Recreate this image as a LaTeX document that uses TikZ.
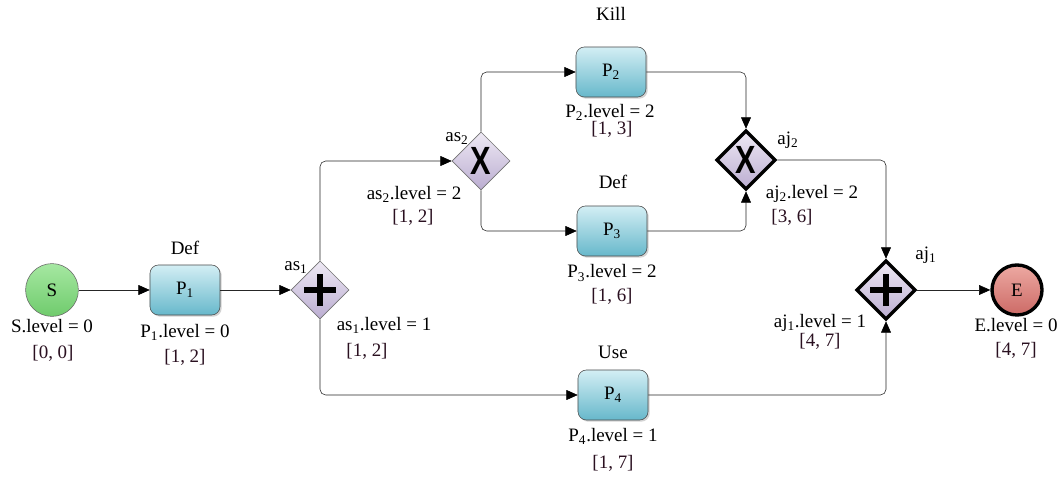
\documentclass[tikz,border=0pt]{standalone}
\usepackage{fontspec}
\setmainfont{Liberation Serif}
\setsansfont{Liberation Sans}
\usetikzlibrary{shapes.geometric,arrows.meta,shadows}
\definecolor{taskhi}{HTML}{D3EEF4}
\definecolor{tasklo}{HTML}{67B8CB}
\definecolor{gatehi}{HTML}{EEE9F4}
\definecolor{gatelo}{HTML}{BBADD1}
\definecolor{starthi}{HTML}{A6E8A2}
\definecolor{startlo}{HTML}{6FCB6C}
\definecolor{endhi}{HTML}{EDA9A2}
\definecolor{endlo}{HTML}{CC6A66}
\definecolor{ivalc}{HTML}{2A1020}
\tikzset{
  task/.style={draw=black!70,rounded corners=6pt,top color=taskhi,bottom color=tasklo,
    minimum width=1.75cm,minimum height=1.25cm,font=\fontsize{13.5}{15}\selectfont,
    drop shadow={shadow xshift=1.2pt,shadow yshift=-1.2pt,opacity=.35}},
  split/.style={diamond,draw=black!55,top color=gatehi,bottom color=gatelo,inner sep=0pt,
    minimum width=1.45cm,minimum height=1.45cm},
  merge/.style={split,draw=black,line width=2.4pt,minimum width=1.48cm,minimum height=1.48cm},
  flow/.style={draw=black!85,rounded corners=4pt,-{Triangle[length=8pt,width=7pt,color=black]}},
  txt/.style={font=\fontsize{13.5}{15}\selectfont,inner sep=0pt},
  ival/.style={txt,text=ivalc},
  xmark/.style={font=\fontsize{28}{28}\sffamily\bfseries,inner sep=0pt,xscale=.78},
  plusbar/.style={line width=3.6pt},
}
\begin{document}
\begin{tikzpicture}[x=0.025cm,y=-0.025cm]
\useasboundingbox (0,0) rectangle (1064,477);
% events
\node[circle,draw=black!60,top color=starthi,bottom color=startlo,minimum size=1.32cm,
  font=\fontsize{13.5}{15}\selectfont] (S) at (52,290) {S};
\node[circle,draw=black,line width=2.4pt,top color=endhi,bottom color=endlo,minimum size=1.25cm,
  font=\fontsize{13.5}{15}\selectfont] (E) at (1017,290) {E};
% tasks
\node[task] (P1) at (185,290) {P\textsubscript{1}};
\node[task] (P2) at (611,72) {P\textsubscript{2}};
\node[task] (P3) at (612,231) {P\textsubscript{3}};
\node[task] (P4) at (613,395) {P\textsubscript{4}};
% gateways
\node[split] (as1) at (320,290) {};
\node[split] (as2) at (481,161) {};
\node[merge] (aj2) at (746,160) {};
\node[merge] (aj1) at (886,290) {};
\draw[plusbar] ([xshift=-0.4cm]as1.center) -- ([xshift=0.4cm]as1.center);
\draw[plusbar] ([yshift=-0.4cm]as1.center) -- ([yshift=0.4cm]as1.center);
\draw[plusbar] ([xshift=-0.4cm]aj1.center) -- ([xshift=0.4cm]aj1.center);
\draw[plusbar] ([yshift=-0.4cm]aj1.center) -- ([yshift=0.4cm]aj1.center);
\node[xmark] (as2x) at (as2.center) {X};
\node[xmark] (aj2x) at (aj2.center) {X};
% flows
\draw[flow] (S) -- (P1);
\draw[flow] (P1) -- (as1.west);
\draw[flow] (as1.north) |- (as2.west);
\draw[flow] (as2.north) |- (P2.west);
\draw[flow] (as2.south) |- (P3.west);
\draw[flow] (P2.east) -| (aj2.north);
\draw[flow] (P3.east) -| (aj2.south);
\draw[flow] (as1.south) |- (P4.west);
\draw[flow] (aj2.east) -| (aj1.north);
\draw[flow] (P4.east) -| (aj1.south);
\draw[flow] (aj1.east) -- (E.west);
% names above the tasks
\node[txt] (defA) at (185,248) {Def};
\node[txt] (kill) at (611,14) {Kill};
\node[txt] (defB) at (613,182) {Def};
\node[txt] (use) at (613,352) {Use};
\node[txt] (as1n) at (296,268) {as\textsubscript{1}};
\node[txt] (as2n) at (457,139) {as\textsubscript{2}};
\node[txt] (aj2n) at (788,140) {aj\textsubscript{2}};
\node[txt] (aj1n) at (926,255) {aj\textsubscript{1}};
% levels and intervals
\node[txt] (Slv) at (52,326) {S.level = 0};
\node[ival] (Siv) at (53,353) {[0, 0]};
\node[txt] (P1lv) at (185,332) {P\textsubscript{1}.level = 0};
\node[ival] (P1iv) at (185,357) {[1, 2]};
\node[txt] (as1lv) at (384,325) {as\textsubscript{1}.level = 1};
\node[ival] (as1iv) at (367,351) {[1, 2]};
\node[txt] (as2lv) at (414,194) {as\textsubscript{2}.level = 2};
\node[ival] (as2iv) at (413,217) {[1, 2]};
\node[txt] (P2lv) at (610,112) {P\textsubscript{2}.level = 2};
\node[ival] (P2iv) at (612,129) {[1, 3]};
\node[txt] (P3lv) at (612,273) {P\textsubscript{3}.level = 2};
\node[ival] (P3iv) at (612,296) {[1, 6]};
\node[txt] (P4lv) at (613,436) {P\textsubscript{4}.level = 1};
\node[ival] (P4iv) at (613,463) {[1, 7]};
\node[txt] (aj2lv) at (812,194) {aj\textsubscript{2}.level = 2};
\node[ival] (aj2iv) at (792,217) {[3, 6]};
\node[txt] (aj1lv) at (820,323) {aj\textsubscript{1}.level = 1};
\node[ival] (aj1iv) at (820,341) {[4, 7]};
\node[txt] (Elv) at (1016,325) {E.level = 0};
\node[ival] (Eiv) at (1016,350) {[4, 7]};
\end{tikzpicture}
\end{document}
